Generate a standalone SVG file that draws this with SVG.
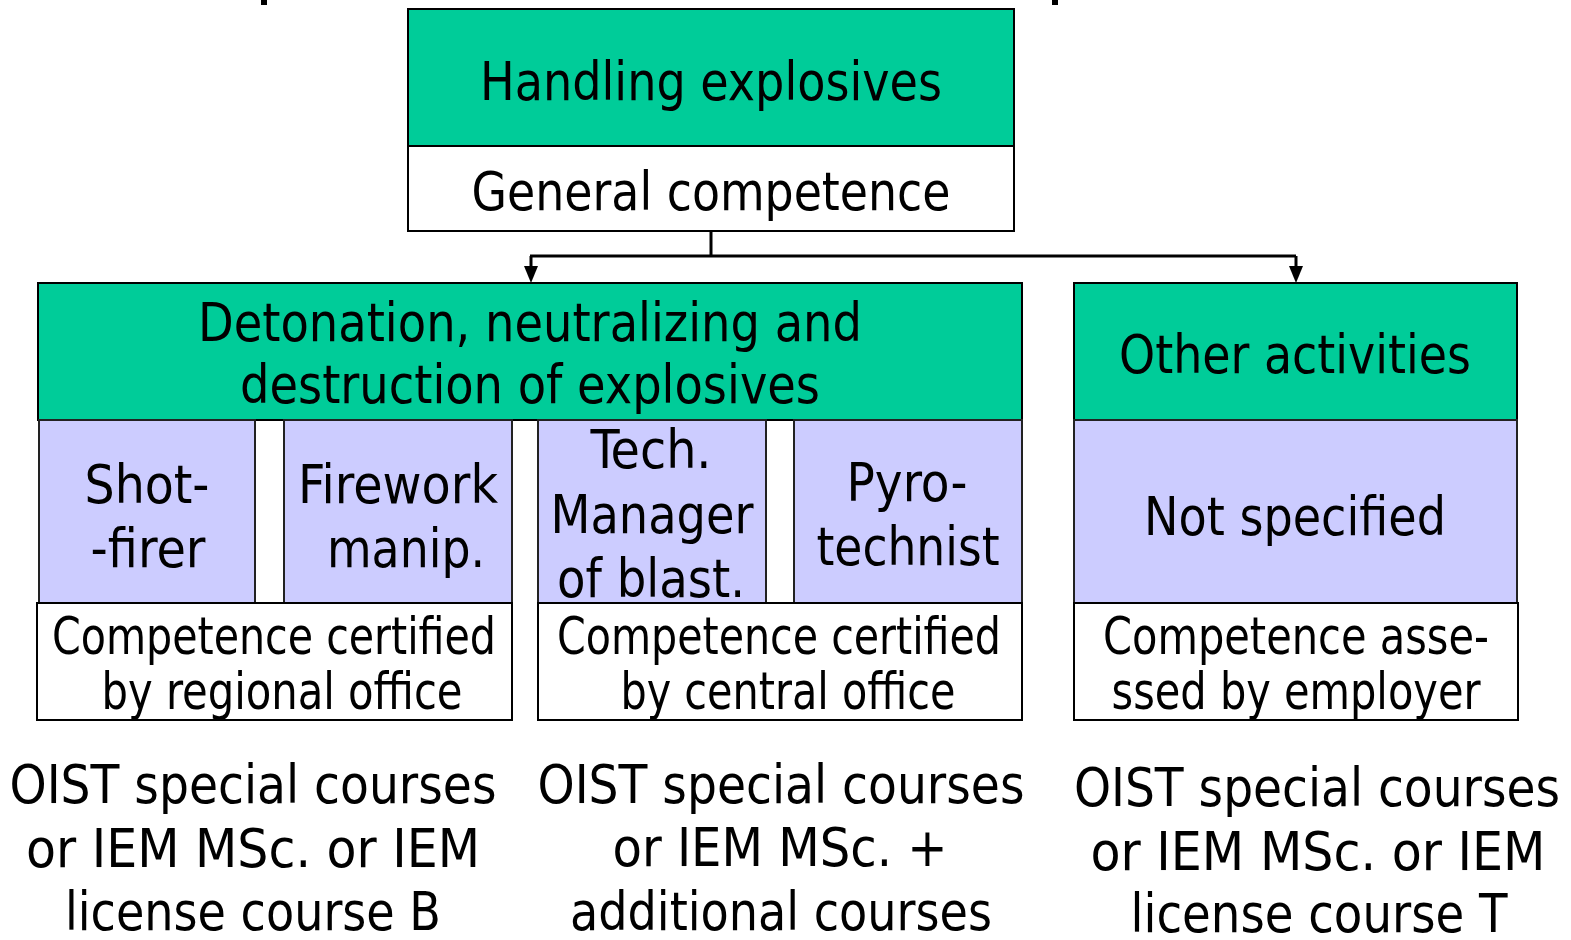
<svg xmlns="http://www.w3.org/2000/svg" width="1571" height="940" viewBox="0 0 1571 940">
<style>
.g{fill:#00CC99;stroke:#000;stroke-width:2}
.w{fill:#fff;stroke:#000;stroke-width:2}
.p{fill:#CCCCFF;stroke:#222;stroke-width:2}
text{font-family:"DejaVu Sans Condensed","DejaVu Sans","Liberation Sans",sans-serif;font-size:53px;fill:#000;text-anchor:middle}
.c{font-size:51px}
.conn{fill:none;stroke:#000;stroke-width:3}
.head{fill:#000;stroke:none}
</style>
<rect x="261" y="0" width="6" height="5" fill="#000"/>
<rect x="1052" y="0" width="6" height="5" fill="#000"/>
<g id="connectors">
<path class="conn" d="M711,231 V256"/>
<path class="conn" d="M530,256 H1296"/>
<path class="conn" d="M531,256 V268"/>
<path class="conn" d="M1296,256 V268"/>
<polygon class="head" points="524,266 538,266 531,283"/>
<polygon class="head" points="1289,266 1303,266 1296,283"/>
</g>
<g id="handling">
<rect class="g" x="408" y="9" width="606" height="137"/>
<text x="711" y="100" textLength="462" lengthAdjust="spacingAndGlyphs">Handling explosives</text>
</g>
<g id="general">
<rect class="w" x="408" y="146" width="606" height="85"/>
<text x="711" y="210" textLength="479" lengthAdjust="spacingAndGlyphs">General competence</text>
</g>
<g id="detonation">
<rect class="g" x="38" y="283" width="984" height="137"/>
<text x="530" y="341" textLength="664" lengthAdjust="spacingAndGlyphs">Detonation, neutralizing and</text>
<text x="530" y="403" textLength="580" lengthAdjust="spacingAndGlyphs">destruction of explosives</text>
</g>
<g id="other">
<rect class="g" x="1074" y="283" width="443" height="137"/>
<text x="1295" y="373" textLength="352" lengthAdjust="spacingAndGlyphs">Other activities</text>
</g>
<g id="shotfirer">
<rect class="p" x="39" y="420" width="216" height="183"/>
<text x="147" y="503" textLength="125" lengthAdjust="spacingAndGlyphs">Shot-</text>
<text x="148" y="567" textLength="115" lengthAdjust="spacingAndGlyphs">-firer</text>
</g>
<g id="firework">
<rect class="p" x="284" y="420" width="228" height="183"/>
<text x="398" y="503" textLength="200" lengthAdjust="spacingAndGlyphs">Firework</text>
<text x="406" y="567" textLength="158" lengthAdjust="spacingAndGlyphs">manip.</text>
</g>
<g id="techmanager">
<rect class="p" x="538" y="420" width="228" height="183"/>
<text x="651" y="468" textLength="121" lengthAdjust="spacingAndGlyphs">Tech.</text>
<text x="652" y="533" textLength="203" lengthAdjust="spacingAndGlyphs">Manager</text>
<text x="651" y="597" textLength="188" lengthAdjust="spacingAndGlyphs">of blast.</text>
</g>
<g id="pyrotechnist">
<rect class="p" x="794" y="420" width="228" height="183"/>
<text x="907" y="501" textLength="121" lengthAdjust="spacingAndGlyphs">Pyro-</text>
<text x="908" y="565" textLength="183" lengthAdjust="spacingAndGlyphs">technist</text>
</g>
<g id="notspecified">
<rect class="p" x="1074" y="420" width="443" height="183"/>
<text x="1295" y="535" textLength="302" lengthAdjust="spacingAndGlyphs">Not specified</text>
</g>
<g id="regional">
<rect class="w" x="37" y="603" width="475" height="117"/>
<text class="c" x="274" y="654" textLength="444" lengthAdjust="spacingAndGlyphs">Competence certified</text>
<text class="c" x="282" y="709" textLength="361" lengthAdjust="spacingAndGlyphs">by regional office</text>
</g>
<g id="central">
<rect class="w" x="538" y="603" width="484" height="117"/>
<text class="c" x="779" y="654" textLength="444" lengthAdjust="spacingAndGlyphs">Competence certified</text>
<text class="c" x="788" y="709" textLength="335" lengthAdjust="spacingAndGlyphs">by central office</text>
</g>
<g id="employer">
<rect class="w" x="1074" y="603" width="444" height="117"/>
<text class="c" x="1296" y="654" textLength="386" lengthAdjust="spacingAndGlyphs">Competence asse-</text>
<text class="c" x="1296" y="709" textLength="369" lengthAdjust="spacingAndGlyphs">ssed by employer</text>
</g>
<g id="courses-left">
<text x="253" y="803" textLength="487" lengthAdjust="spacingAndGlyphs">OIST special courses</text>
<text x="253" y="867" textLength="454" lengthAdjust="spacingAndGlyphs">or IEM MSc. or IEM</text>
<text x="253" y="930" textLength="376" lengthAdjust="spacingAndGlyphs">license course B</text>
</g>
<g id="courses-middle">
<text x="781" y="803" textLength="487" lengthAdjust="spacingAndGlyphs">OIST special courses</text>
<text x="780" y="866" textLength="335" lengthAdjust="spacingAndGlyphs">or IEM MSc. +</text>
<text x="781" y="930" textLength="422" lengthAdjust="spacingAndGlyphs">additional courses</text>
</g>
<g id="courses-right">
<text x="1317" y="806" textLength="486" lengthAdjust="spacingAndGlyphs">OIST special courses</text>
<text x="1318" y="870" textLength="455" lengthAdjust="spacingAndGlyphs">or IEM MSc. or IEM</text>
<text x="1319" y="932" textLength="377" lengthAdjust="spacingAndGlyphs">license course T</text>
</g>
</svg>
